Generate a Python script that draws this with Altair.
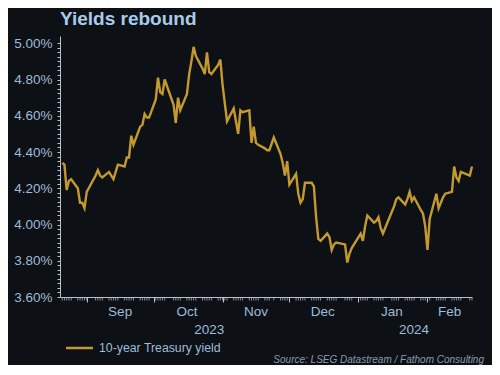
import altair as alt
import pandas as pd

# ---- data ----
dates = [
    "2023-08-21", "2023-08-22", "2023-08-23", "2023-08-24", "2023-08-25",
    "2023-08-28", "2023-08-29", "2023-08-30", "2023-08-31", "2023-09-01",
    "2023-09-05", "2023-09-06", "2023-09-07", "2023-09-08",
    "2023-09-11", "2023-09-12", "2023-09-13", "2023-09-14", "2023-09-15",
    "2023-09-18", "2023-09-19", "2023-09-20", "2023-09-21", "2023-09-22",
    "2023-09-25", "2023-09-26", "2023-09-27", "2023-09-28", "2023-09-29",
    "2023-10-02", "2023-10-03", "2023-10-04", "2023-10-05", "2023-10-06",
    "2023-10-10", "2023-10-11", "2023-10-12", "2023-10-13",
    "2023-10-16", "2023-10-17", "2023-10-18", "2023-10-19", "2023-10-20",
    "2023-10-23", "2023-10-24", "2023-10-25", "2023-10-26", "2023-10-27",
    "2023-10-30", "2023-10-31", "2023-11-01", "2023-11-02", "2023-11-03",
    "2023-11-06", "2023-11-07", "2023-11-08", "2023-11-09", "2023-11-10",
    "2023-11-13", "2023-11-14", "2023-11-15", "2023-11-16", "2023-11-17",
    "2023-11-20", "2023-11-21", "2023-11-22", "2023-11-24",
    "2023-11-27", "2023-11-28", "2023-11-29", "2023-11-30", "2023-12-01",
    "2023-12-04", "2023-12-05", "2023-12-06", "2023-12-07", "2023-12-08",
    "2023-12-11", "2023-12-12", "2023-12-13", "2023-12-14", "2023-12-15",
    "2023-12-18", "2023-12-19", "2023-12-20", "2023-12-21", "2023-12-22",
    "2023-12-26", "2023-12-27", "2023-12-28", "2023-12-29",
    "2024-01-02", "2024-01-03", "2024-01-04", "2024-01-05",
    "2024-01-08", "2024-01-09", "2024-01-10", "2024-01-11", "2024-01-12",
    "2024-01-16", "2024-01-17", "2024-01-18", "2024-01-19",
    "2024-01-22", "2024-01-23", "2024-01-24", "2024-01-25", "2024-01-26",
    "2024-01-29", "2024-01-30", "2024-01-31", "2024-02-01", "2024-02-02",
    "2024-02-05", "2024-02-06", "2024-02-07", "2024-02-08", "2024-02-09",
    "2024-02-12", "2024-02-13", "2024-02-14", "2024-02-15", "2024-02-16",
    "2024-02-20", "2024-02-21",
]
yields = [
    4.34, 4.33, 4.19, 4.24, 4.25,
    4.20, 4.12, 4.12, 4.09, 4.18,
    4.27, 4.30, 4.27, 4.26,
    4.29, 4.27, 4.25, 4.29, 4.33,
    4.32, 4.37, 4.37, 4.49, 4.44,
    4.54, 4.55, 4.61, 4.59, 4.59,
    4.69, 4.81, 4.73, 4.72, 4.80,
    4.66, 4.56, 4.70, 4.63,
    4.72, 4.83, 4.90, 4.98, 4.93,
    4.86, 4.83, 4.95, 4.84, 4.83,
    4.88, 4.91, 4.77, 4.67, 4.57,
    4.64, 4.57, 4.50, 4.63, 4.62,
    4.63, 4.45, 4.54, 4.45, 4.44,
    4.42, 4.41, 4.41, 4.48,
    4.39, 4.34, 4.27, 4.35, 4.22,
    4.28, 4.17, 4.12, 4.14, 4.23,
    4.23, 4.21, 4.04, 3.92, 3.91,
    3.95, 3.93, 3.86, 3.89, 3.90,
    3.89, 3.79, 3.84, 3.87,
    3.95, 3.91, 3.99, 4.05,
    4.01, 4.02, 4.04, 3.98, 3.95,
    4.07, 4.10, 4.14, 4.15,
    4.11, 4.14, 4.18, 4.13, 4.15,
    4.08, 4.06, 3.99, 3.86, 4.03,
    4.17, 4.09, 4.12, 4.15, 4.17,
    4.18, 4.32, 4.26, 4.24, 4.29,
    4.27, 4.32,
]
series_name = "10-year Treasury yield"
title_text = "Yields rebound"
source_text = "Source: LSEG Datastream / Fathom Consulting"

month_labels = ["Sep", "Oct", "Nov", "Dec", "Jan", "Feb"]
month_label_dates = ["2023-09-16", "2023-10-16", "2023-11-16",
                     "2023-12-16", "2024-01-16", "2024-02-11"]
month_starts = ["2023-09-01", "2023-10-01", "2023-11-01",
                "2023-12-01", "2024-01-01", "2024-02-01"]
year_labels = ["2023", "2024"]
year_label_dates = ["2023-10-26", "2024-01-26"]
x_domain = ["2023-08-20", "2024-02-21"]
y_ticks = [round(3.6 + 0.025 * i, 3) for i in range(57)]

# ---- style ----
BG = "#0d1014"
GOLD = "#c49a30"
LABEL = "#9dbcda"
AXIS = "#b9c3cc"
FONT = "Liberation Sans"
TOTAL_W, TOTAL_H = 484, 357


def ms(d):
    return int(pd.Timestamp(d, tz="UTC").value // 10**6)


df = pd.DataFrame({"date": dates, "yield": yields, "series": series_name})

x_scale = alt.Scale(domain=[ms(x_domain[0]), ms(x_domain[1])])

line = alt.Chart(df).mark_line(strokeWidth=2.4).encode(
    x=alt.X(
        "date:T",
        scale=x_scale,
        axis=alt.Axis(
            title=None,
            values=[ms(d) for d in month_starts],
            labels=False,
            tickSize=5,
            grid=False,
            domainColor=AXIS,
            tickColor=AXIS,
        ),
    ),
    y=alt.Y(
        "yield:Q",
        scale=alt.Scale(domain=[3.6, 5.04], nice=False, zero=False),
        axis=alt.Axis(
            title=None,
            values=y_ticks,
            labelExpr="(round(datum.value * 1000) % 200 == 0) ? format(datum.value, '.2f') + '%' : ''",
            labelOverlap=False,
            tickSize=3,
            labelPadding=5,
            grid=False,
            domainColor=AXIS,
            tickColor=AXIS,
            labelColor=LABEL,
            labelFontSize=13.5,
            labelFont=FONT,
        ),
    ),
    color=alt.Color(
        "series:N",
        scale=alt.Scale(domain=[series_name], range=[GOLD]),
        legend=None,
    ),
)

minor = alt.Chart(df).mark_tick(color=AXIS, size=3, thickness=1).encode(
    x=alt.X("date:T"),
    y=alt.value(alt.expr("height + 2")),
)

months_df = pd.DataFrame({"date": month_label_dates, "label": month_labels})
months = alt.Chart(months_df).mark_text(
    font=FONT, fontSize=13.5, color=LABEL, baseline="middle"
).encode(
    x=alt.X("date:T"),
    y=alt.value(alt.expr("height + 15")),
    text="label:N",
)

years_df = pd.DataFrame({"date": year_label_dates, "label": year_labels})
years = alt.Chart(years_df).mark_text(
    font=FONT, fontSize=13.5, color=LABEL, baseline="middle"
).encode(
    x=alt.X("date:T"),
    y=alt.value(alt.expr("height + 33")),
    text="label:N",
)

# legend entry drawn from the series name
leg_df = pd.DataFrame({"label": [series_name]})
leg_line = alt.Chart(leg_df).mark_rule(color=GOLD, strokeWidth=2.5).encode(
    x=alt.value(6),
    x2=alt.value(33),
    y=alt.value(alt.expr("height + 51")),
)
leg_text = alt.Chart(leg_df).mark_text(
    font=FONT, fontSize=12.3, color=LABEL, align="left", baseline="middle"
).encode(
    x=alt.value(39),
    y=alt.value(alt.expr("height + 51")),
    text="label:N",
)

src_df = pd.DataFrame({"label": [source_text]})
source = alt.Chart(src_df).mark_text(
    font=FONT, fontSize=10, fontStyle="italic", color="#8a9cb0", align="right", baseline="middle"
).encode(
    x=alt.value(alt.expr("width + 12")),
    y=alt.value(alt.expr("height + 63")),
    text="label:N",
)

chart = alt.layer(line, minor, months, years, leg_line, leg_text, source).properties(
    width=TOTAL_W,
    height=TOTAL_H,
    autosize=alt.AutoSizeParams(type="fit", contains="padding"),
    background=BG,
    padding={"left": 5, "top": 2, "right": 8, "bottom": 0},
    title=alt.TitleParams(
        title_text,
        anchor="start",
        frame="group",
        font=FONT,
        fontSize=19,
        fontWeight="bold",
        color="#a9cbea",
        offset=7,
    ),
).configure_view(stroke=None)

chart.save("out.html", embed_options={"renderer": "svg", "actions": False})
